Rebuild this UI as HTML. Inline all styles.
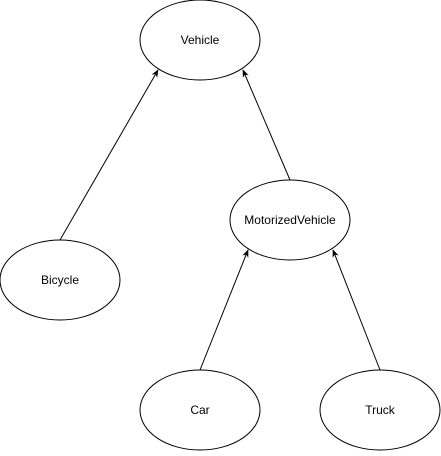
<!DOCTYPE html>
<html><head><style>body{margin:0;background:#fff}</style></head><body>
<svg width="441" height="451" xmlns="http://www.w3.org/2000/svg" font-family="Liberation Sans, sans-serif" font-size="12">
<defs><marker id="a" viewBox="0 0 10 10" refX="9" refY="5" markerWidth="8" markerHeight="8" orient="auto"><path d="M0,1 L10,5 L0,9 L3,5 Z" fill="#000"/></marker></defs>
<g fill="#fff" stroke="#000" stroke-width="1">
<ellipse cx="200" cy="40" rx="60" ry="40"/>
<ellipse cx="290" cy="220" rx="60" ry="40"/>
<ellipse cx="60" cy="280" rx="60" ry="40"/>
<ellipse cx="200" cy="410" rx="60" ry="40"/>
<ellipse cx="380" cy="410" rx="60" ry="40"/>
</g>
<g stroke="#000" fill="none" marker-end="url(#a)">
<line x1="60" y1="240" x2="158" y2="70"/>
<line x1="290" y1="180" x2="243" y2="70"/>
<line x1="200" y1="370" x2="248" y2="250"/>
<line x1="380" y1="370" x2="333" y2="250"/>
</g>
<g text-anchor="middle" fill="#000">
<text x="200" y="44">Vehicle</text>
<text x="290" y="224">MotorizedVehicle</text>
<text x="60" y="284">Bicycle</text>
<text x="200" y="414">Car</text>
<text x="380" y="414">Truck</text>
</g>
</svg>
</body></html>
